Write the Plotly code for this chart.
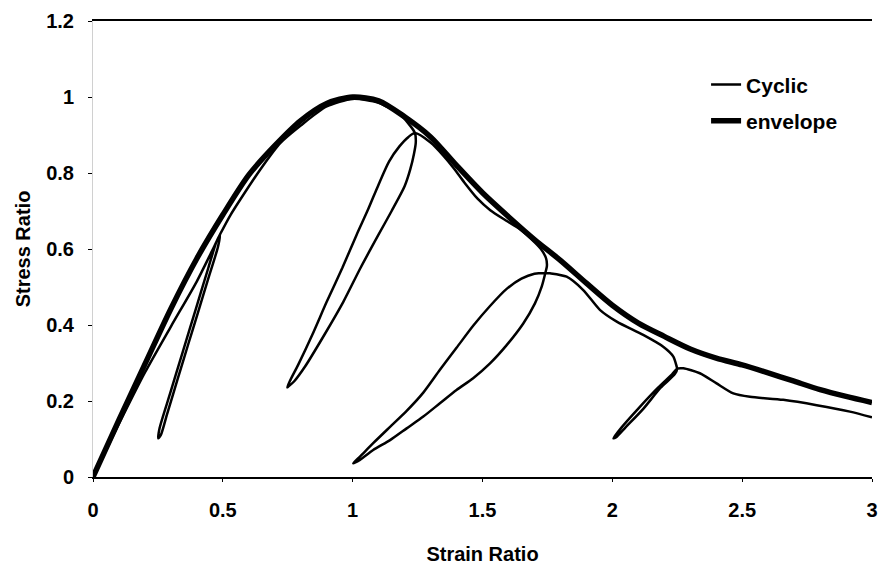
import plotly.graph_objects as go

# Envelope curve (thick)
env_x = [0, 0.1, 0.2, 0.3, 0.4, 0.5, 0.6, 0.7, 0.8, 0.9, 1.0, 1.1, 1.2, 1.3, 1.4,
         1.5, 1.6, 1.7, 1.8, 1.9, 2.0, 2.1, 2.2, 2.3, 2.4, 2.5, 2.6, 2.7, 2.8, 2.9, 3.0]
env_y = [0, 0.15, 0.297, 0.443, 0.575, 0.69, 0.795, 0.872, 0.938, 0.983, 1.0, 0.99, 0.948,
         0.895, 0.82, 0.748, 0.685, 0.625, 0.57, 0.51, 0.452, 0.405, 0.37, 0.337, 0.313,
         0.295, 0.274, 0.252, 0.23, 0.212, 0.196]

# Cyclic loading path (thin), in loading order
cyc_x = [0, 0.1, 0.2, 0.3, 0.4, 0.46, 0.489,
         0.481, 0.443, 0.403, 0.367, 0.327, 0.285, 0.261, 0.251,
         0.257, 0.297, 0.346, 0.395, 0.444, 0.476, 0.492,
         0.53, 0.566, 0.643, 0.72, 0.8, 0.9, 1.0, 1.1, 1.18, 1.215, 1.24,
         1.243, 1.236, 1.222, 1.20, 1.15, 1.099, 1.03, 0.964, 0.89, 0.816, 0.775, 0.752, 0.748,
         0.76, 0.79, 0.845, 0.90, 0.96, 1.015, 1.06, 1.10, 1.14, 1.18, 1.215, 1.24,
         1.30, 1.35, 1.39, 1.43, 1.48, 1.53, 1.59, 1.644, 1.69, 1.725, 1.745, 1.748, 1.742,
         1.728, 1.702, 1.657, 1.593, 1.529, 1.464, 1.40, 1.336, 1.272, 1.208, 1.144, 1.079,
         1.028, 1.002,
         1.03, 1.079, 1.144, 1.208, 1.272, 1.336, 1.40, 1.464, 1.529, 1.593, 1.65, 1.70, 1.742,
         1.76, 1.824, 1.888, 1.952, 2.017, 2.119, 2.196, 2.235, 2.248, 2.25,
         2.24, 2.186, 2.12, 2.05, 2.015, 2.004,
         2.035, 2.10, 2.176, 2.23, 2.25,
         2.273, 2.337, 2.40, 2.466, 2.53, 2.658, 2.787, 2.915, 3.0]
cyc_y = [0, 0.14, 0.275, 0.396, 0.515, 0.597, 0.637,
         0.605, 0.52, 0.43, 0.35, 0.26, 0.165, 0.11, 0.102,
         0.13, 0.22, 0.33, 0.44, 0.55, 0.62, 0.642,
         0.69, 0.729, 0.808, 0.878, 0.925, 0.975, 0.995, 0.985, 0.955, 0.93, 0.905,
         0.88, 0.85, 0.81, 0.765, 0.70, 0.637, 0.55, 0.461, 0.373, 0.29, 0.252, 0.238, 0.236,
         0.255, 0.295, 0.375, 0.461, 0.55, 0.637, 0.705, 0.77, 0.83, 0.87, 0.895, 0.905,
         0.88, 0.845, 0.812, 0.775, 0.733, 0.702, 0.675, 0.652, 0.625, 0.60, 0.575, 0.555, 0.537,
         0.501, 0.457, 0.404, 0.347, 0.299, 0.26, 0.229, 0.194, 0.159, 0.128, 0.097, 0.071,
         0.045, 0.036,
         0.055, 0.089, 0.132, 0.174, 0.222, 0.282, 0.34, 0.398, 0.45, 0.495, 0.522, 0.535, 0.537,
         0.536, 0.527, 0.492, 0.44, 0.409, 0.374, 0.343, 0.317, 0.29, 0.285,
         0.27, 0.235, 0.18, 0.13, 0.105, 0.102,
         0.13, 0.18, 0.235, 0.27, 0.285,
         0.286, 0.273, 0.247, 0.22, 0.211, 0.203, 0.189, 0.172, 0.157]

x_ticks = [0, 0.5, 1, 1.5, 2, 2.5, 3]
x_tick_text = ["0", "0.5", "1", "1.5", "2", "2.5", "3"]
y_ticks = [0, 0.2, 0.4, 0.6, 0.8, 1.0, 1.2]
y_tick_text = ["0", "0.2", "0.4", "0.6", "0.8", "1", "1.2"]

FONT = "Liberation Sans, Arial, sans-serif"

fig = go.Figure()
fig.add_trace(go.Scatter(
    x=cyc_x, y=cyc_y, mode="lines", name="Cyclic", legendgroup="a",
    line=dict(color="black", width=2.5, shape="spline", smoothing=0.7),
))
fig.add_trace(go.Scatter(
    x=env_x, y=env_y, mode="lines", name="envelope", legendgroup="b",
    line=dict(color="black", width=5.5, shape="spline", smoothing=0.8),
))

fig.update_layout(
    width=883, height=578,
    margin=dict(l=93, r=11, t=21, b=101),
    paper_bgcolor="white", plot_bgcolor="white",
    font=dict(family=FONT, color="black", size=20, weight="bold"),
    showlegend=True,
    legend=dict(
        x=0.787, y=0.905, xanchor="left", yanchor="top",
        bgcolor="rgba(0,0,0,0)", borderwidth=0,
        font=dict(family=FONT, size=21, color="black", weight="bold"),
        traceorder="grouped", tracegroupgap=6,
    ),
    xaxis=dict(
        range=[0, 3], tickvals=x_ticks, ticktext=x_tick_text,
        showgrid=False, zeroline=False,
        showline=True, linecolor="black", linewidth=2, mirror=True,
        ticks="outside", ticklen=3, tickcolor="black",
        ticklabelstandoff=11,
        tickfont=dict(family=FONT, size=20, weight="bold"),
        title=dict(text="Strain Ratio", standoff=27,
                   font=dict(family=FONT, size=20, weight="bold")),
        automargin=False,
    ),
    yaxis=dict(
        range=[0, 1.2], tickvals=y_ticks, ticktext=y_tick_text,
        showgrid=False, zeroline=False,
        showline=True, linecolor="#d0d0d0", linewidth=1,
        ticks="outside", ticklen=4, tickcolor="black",
        ticklabelstandoff=10,
        tickfont=dict(family=FONT, size=20, weight="bold"),
        title=dict(text="Stress Ratio", standoff=10,
                   font=dict(family=FONT, size=20, weight="bold")),
        automargin=False,
    ),
)

fig.write_html(
    "out.html",
    config={"displayModeBar": False},
    post_script="document.body.style.margin='0';document.body.style.overflow='hidden';",
)
